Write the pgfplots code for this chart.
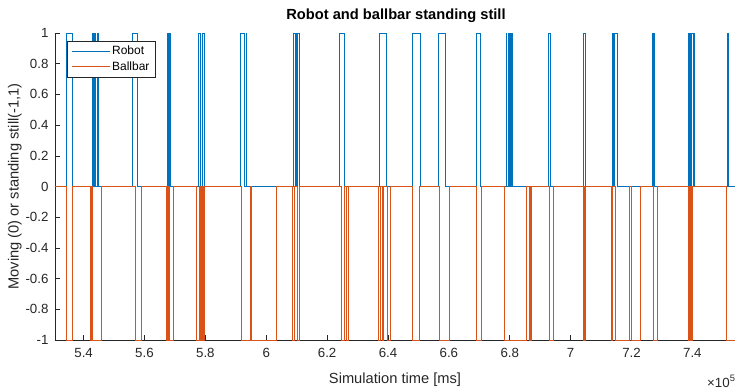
\documentclass[border=0pt]{standalone}
\usepackage{fontspec}
\setmainfont{Liberation Sans}
\usepackage{pgfplots}
\pgfplotsset{compat=1.18}
\definecolor{mblue}{rgb}{0,0.447,0.741}
\definecolor{morange}{rgb}{0.85,0.325,0.098}
\definecolor{axgray}{rgb}{0.15,0.15,0.15}
\begin{document}
\begin{tikzpicture}
\begin{axis}[
 scale only axis, width=680pt, height=307pt,
 xmin=530600, xmax=754000, ymin=-1, ymax=1,
 axis x line*=bottom, axis y line*=left,
 axis line style={axgray, line width=0.6pt},
 xtick={540000,560000,580000,600000,620000,640000,660000,680000,700000,720000,740000},
 xticklabels={5.4,5.6,5.8,6,6.2,6.4,6.6,6.8,7,7.2,7.4},
 ytick={-1,-0.8,-0.6,-0.4,-0.2,0,0.2,0.4,0.6,0.8,1},
 yticklabels={-1,-0.8,-0.6,-0.4,-0.2,0,0.2,0.4,0.6,0.8,1},
 scaled x ticks=false,
 tick align=inside, major tick length=5pt,
 every tick/.style={axgray, line width=0.6pt},
 tick label style={font=\fontsize{13.3}{15}\selectfont, text=axgray},
 xticklabel style={yshift=-5pt},
 yticklabel style={xshift=-3pt},
 xlabel={Simulation time [ms]}, ylabel={Moving (0) or standing still(-1,1)},
 label style={font=\fontsize{14.67}{17}\selectfont, text=axgray},
 xlabel style={at={(axis description cs:0.5,-0.129)}, anchor=center},
 ylabel style={at={(axis description cs:-0.059,0.5)}, anchor=center},
 legend style={at={(axis description cs:0.018,0.975)}, anchor=north west, draw=axgray, line width=0.5pt, fill=white, font=\fontsize{12}{14}\selectfont, inner xsep=4pt, inner ysep=3pt, row sep=1.5pt, cells={anchor=west}, text=black},
 legend image code/.code={\draw[#1] (0pt,0pt) -- (38pt,0pt);},
]
\addplot[mblue, line width=0.6pt] coordinates {
(530600,0)
(534400,0)(534400,1)(536400,1)(536400,0)
(542900,0)(542900,1)(543300,1)(543300,0)
(543500,0)(543500,1)(543700,1)(543700,0)
(544400,0)(544400,1)(544700,1)(544700,0)
(555900,0)(555900,1)(557500,1)(557500,0)
(567400,0)(567400,1)(567700,1)(567700,0)
(567900,0)(567900,1)(568100,1)(568100,0)
(568200,0)(568200,1)(568400,1)(568400,0)
(577600,0)(577600,1)(578200,1)(578200,0)
(578900,0)(578900,1)(579600,1)(579600,0)
(591600,0)(591600,1)(592700,1)(592700,0)
(593300,0)(593300,1)(593600,1)(593600,0)
(608900,0)(608900,1)(609400,1)(609400,0)
(609600,0)(609600,1)(610000,1)(610000,0)
(610200,0)(610200,1)(610700,1)(610700,0)
(624100,0)(624100,1)(625700,1)(625700,0)
(637200,0)(637200,1)(639400,1)(639400,0)
(648100,0)(648100,1)(650700,1)(650700,0)
(656500,0)(656500,1)(658700,1)(658700,0)
(669100,0)(669100,1)(670400,1)(670400,0)
(678700,0)(678700,1)(679000,1)(679000,0)
(679400,0)(679400,1)(679700,1)(679700,0)
(679900,0)(679900,1)(680100,1)(680100,0)
(680200,0)(680200,1)(680400,1)(680400,0)
(680500,0)(680500,1)(680700,1)(680700,0)
(692500,0)(692500,1)(693300,1)(693300,0)
(704300,0)(704300,1)(704700,1)(704700,0)
(713700,0)(713700,1)(714000,1)(714000,0)
(714200,0)(714200,1)(715300,1)(715300,0)
(726700,0)(726700,1)(727000,1)(727000,0)
(727200,0)(727200,1)(727500,1)(727500,0)
(738800,0)(738800,1)(739100,1)(739100,0)
(739300,0)(739300,1)(739600,1)(739600,0)
(739800,0)(739800,1)(740200,1)(740200,0)
(740400,0)(740400,1)(740700,1)(740700,0)
(751500,0)(751500,1)(751700,1)(751700,0)
(754000,0)
};
\addlegendentry{Robot}
\addplot[morange, line width=0.6pt] coordinates {
(530600,0)
(534400,0)(534400,-1)(536400,-1)(536400,0)
(542100,0)(542100,-1)(542500,-1)(542500,0)
(542900,0)(542900,-1)(545800,-1)(545800,0)
(557000,0)(557000,-1)(558800,-1)(558800,0)
(567200,0)(567200,-1)(567500,-1)(567500,0)
(567700,0)(567700,-1)(568000,-1)(568000,0)
(568100,0)(568100,-1)(569400,-1)(569400,0)
(577100,0)(577100,-1)(577900,-1)(577900,0)
(578300,0)(578300,-1)(578600,-1)(578600,0)
(578800,0)(578800,-1)(579100,-1)(579100,0)
(579300,0)(579300,-1)(579500,-1)(579500,0)
(591900,0)(591900,-1)(594700,-1)(594700,0)
(595000,0)(595000,-1)(603200,-1)(603200,0)
(608700,0)(608700,-1)(609100,-1)(609100,0)
(610200,0)(610200,-1)(610900,-1)(610900,0)
(624700,0)(624700,-1)(625700,-1)(625700,0)
(626400,0)(626400,-1)(627100,-1)(627100,0)
(636900,0)(636900,-1)(637500,-1)(637500,0)
(638000,0)(638000,-1)(638600,-1)(638600,0)
(639700,0)(639700,-1)(640600,-1)(640600,0)
(648100,0)(648100,-1)(650400,-1)(650400,0)
(657000,0)(657000,-1)(660000,-1)(660000,0)
(669000,0)(669000,-1)(670600,-1)(670600,0)
(678300,0)(678300,-1)(685300,-1)(685300,0)
(686300,0)(686300,-1)(686500,-1)(686500,0)
(686700,0)(686700,-1)(687100,-1)(687100,0)
(692900,0)(692900,-1)(694300,-1)(694300,0)
(704000,0)(704000,-1)(704300,-1)(704300,0)
(704500,0)(704500,-1)(704800,-1)(704800,0)
(713400,0)(713400,-1)(713700,-1)(713700,0)
(714600,0)(714600,-1)(719400,-1)(719400,0)
(720000,0)(720000,-1)(722900,-1)(722900,0)
(727200,0)(727200,-1)(728500,-1)(728500,0)
(738800,0)(738800,-1)(739100,-1)(739100,0)
(739300,0)(739300,-1)(739600,-1)(739600,0)
(739800,0)(739800,-1)(740100,-1)(740100,0)
(751300,0)(751300,-1)(754000,-1)
};
\addlegendentry{Ballbar}
\end{axis}
\node[anchor=base, font=\bfseries\fontsize{14.67}{17}\selectfont, text=black, inner sep=0pt] at (341pt,320pt) {Robot and ballbar standing still};
\node[anchor=base west, font=\fontsize{13.3}{15}\selectfont, text=axgray, inner sep=0pt] at (652pt,-47pt) {×10\textsuperscript{5}};
\pgfresetboundingbox
\path[use as bounding box] (-55pt,-51pt) rectangle (680pt,340pt);
\end{tikzpicture}
\end{document}
